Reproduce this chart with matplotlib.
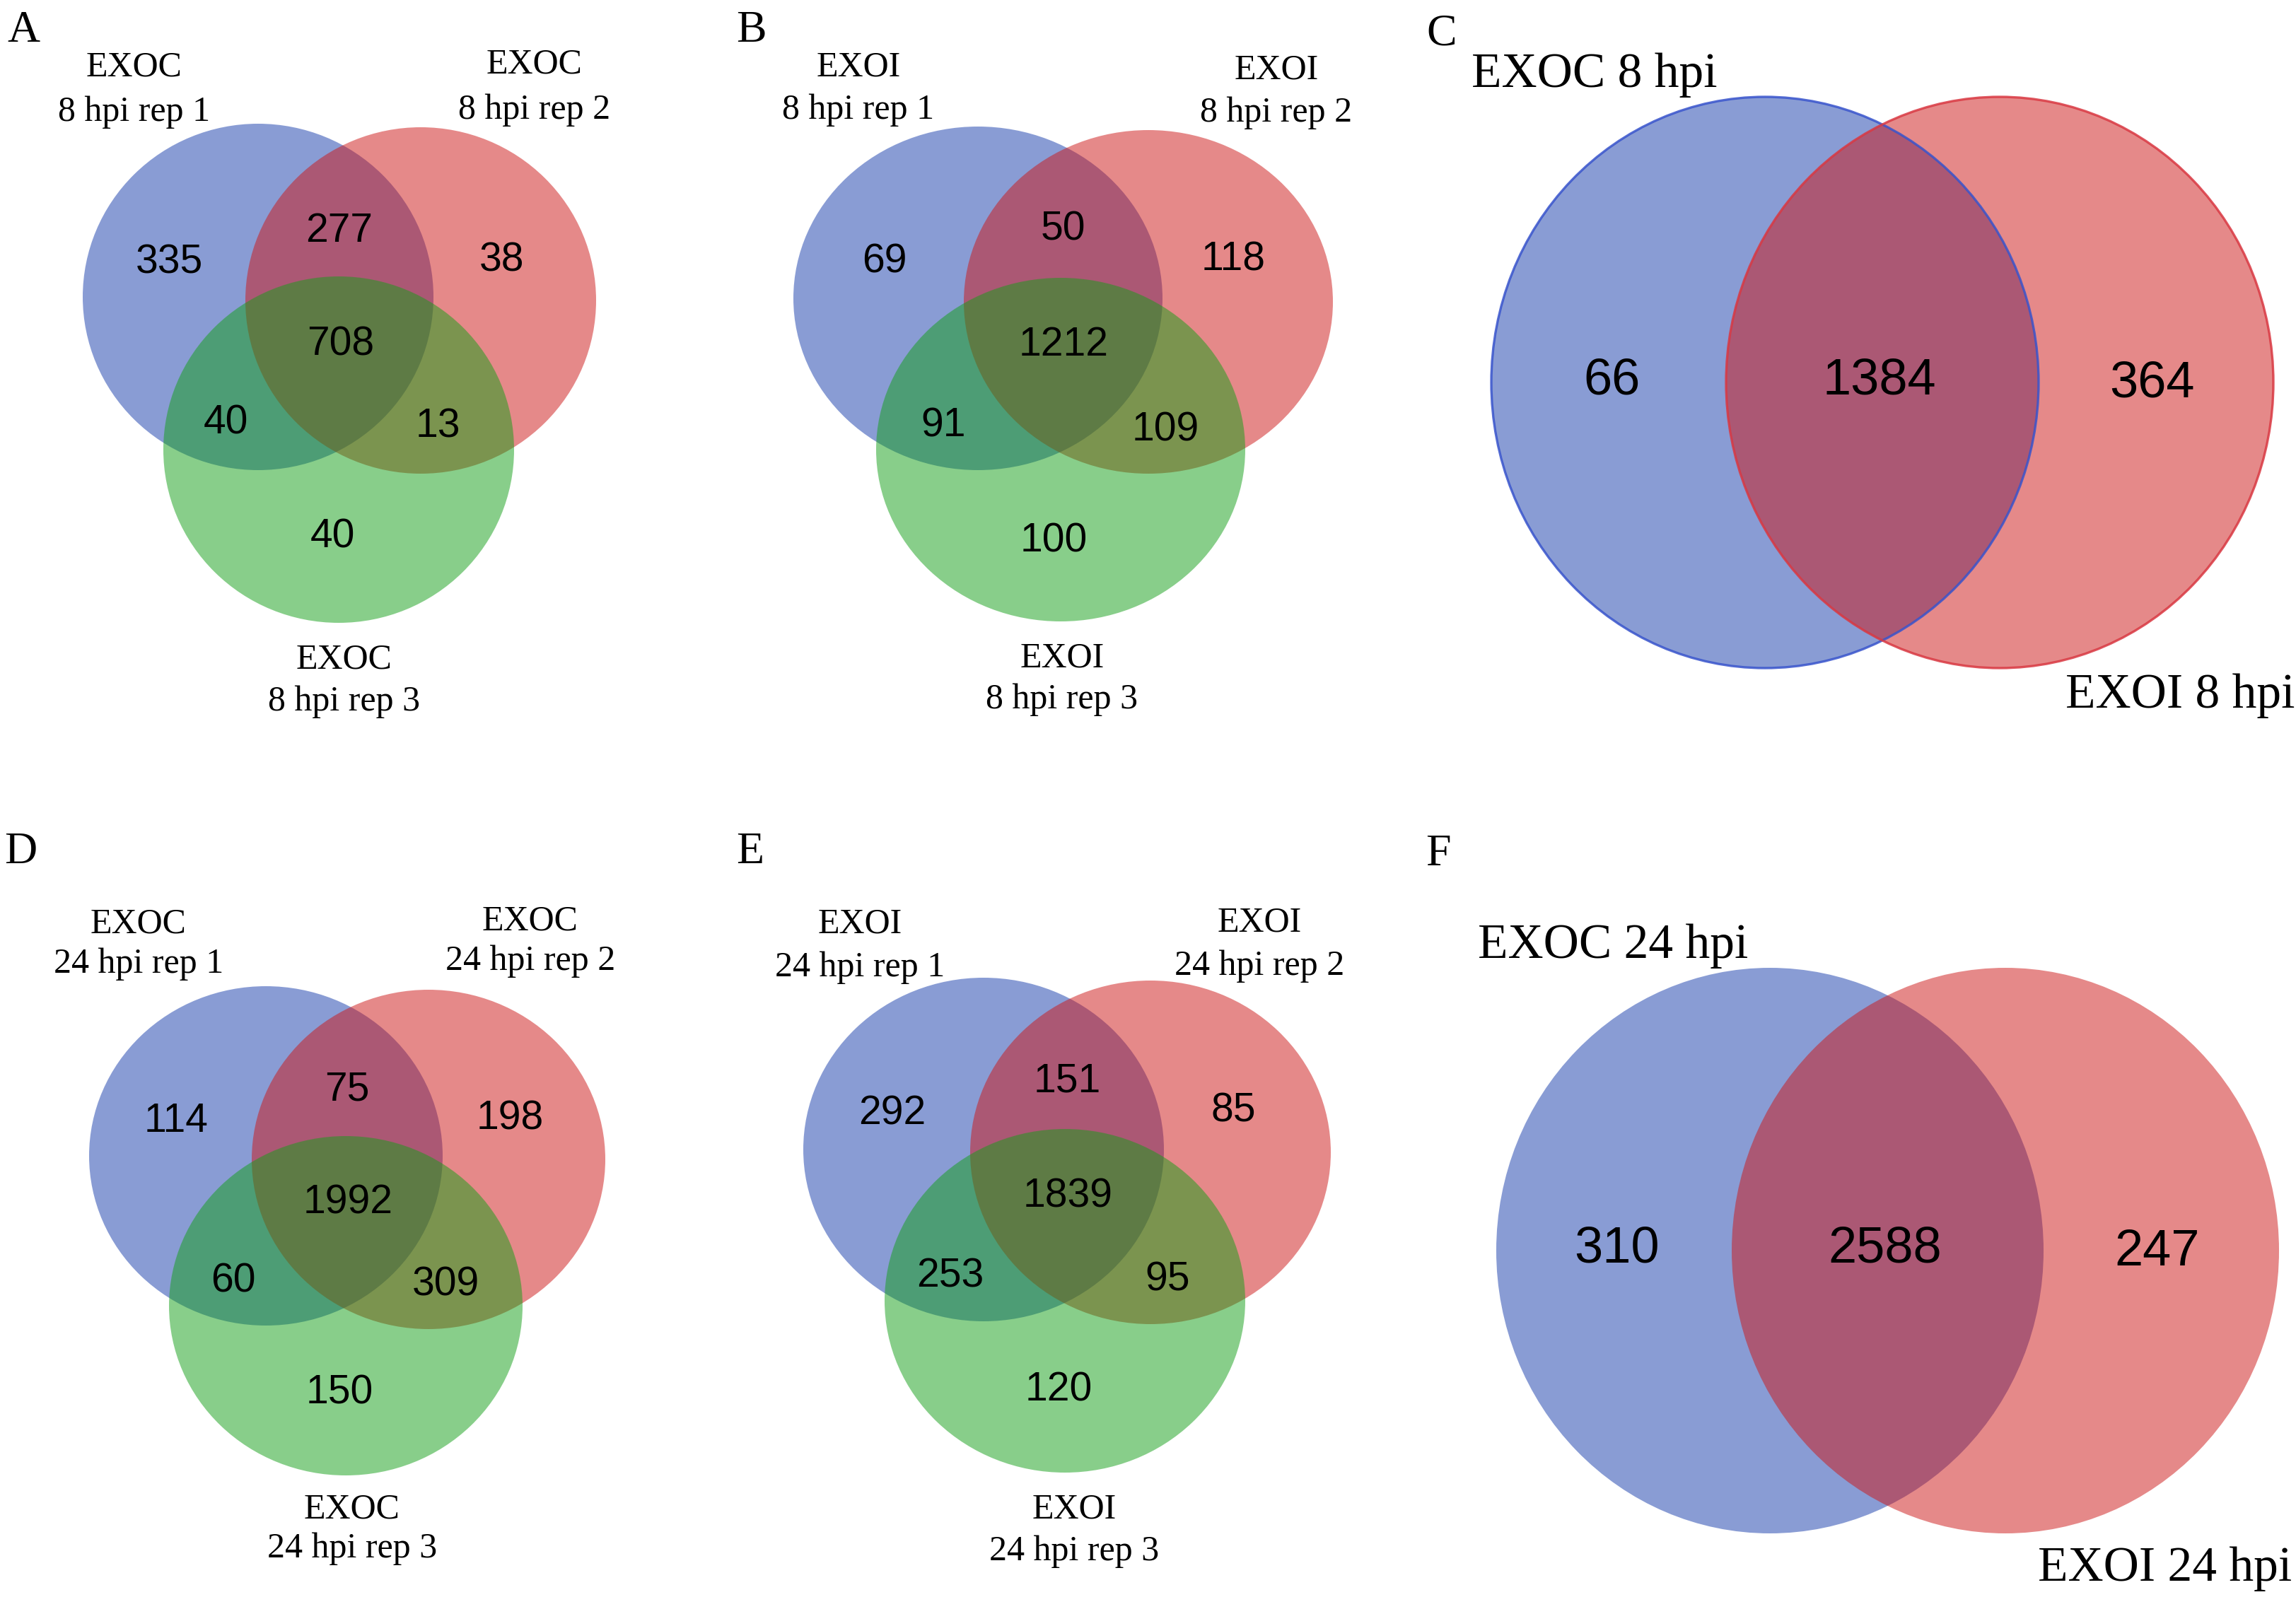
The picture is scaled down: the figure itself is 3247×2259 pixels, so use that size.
import matplotlib
matplotlib.use("Agg")
import matplotlib.pyplot as plt
from matplotlib.patches import Ellipse

# ---------------- data ----------------
# three-set counts, order: only1, only2, only3, 1&2, 1&3, 2&3, 1&2&3
counts_A = [335, 38, 40, 277, 40, 13, 708]
counts_B = [69, 118, 100, 50, 91, 109, 1212]
counts_D = [114, 198, 150, 75, 60, 309, 1992]
counts_E = [292, 85, 120, 151, 253, 95, 1839]
# two-set counts, order: only1, 1&2, only2
counts_C = [66, 1384, 364]
counts_F = [310, 2588, 247]

sets_A = [("EXOC", "8 hpi rep 1"), ("EXOC", "8 hpi rep 2"), ("EXOC", "8 hpi rep 3")]
sets_B = [("EXOI", "8 hpi rep 1"), ("EXOI", "8 hpi rep 2"), ("EXOI", "8 hpi rep 3")]
sets_D = [("EXOC", "24 hpi rep 1"), ("EXOC", "24 hpi rep 2"), ("EXOC", "24 hpi rep 3")]
sets_E = [("EXOI", "24 hpi rep 1"), ("EXOI", "24 hpi rep 2"), ("EXOI", "24 hpi rep 3")]
sets_C = ["EXOC 8 hpi", "EXOI 8 hpi"]
sets_F = ["EXOC 24 hpi", "EXOI 24 hpi"]

panel_letters = ["A", "B", "C", "D", "E", "F"]

# ---------------- style ----------------
W, H = 3248, 2259
DPI = 100
BLUE = (21/255, 59/255, 171/255)
RED = (205/255, 21/255, 21/255)
GREEN = (19/255, 159/255, 23/255)
ALPHA = 0.5
SERIF = ["Liberation Serif", "DejaVu Serif"]
SANS = ["Liberation Sans", "DejaVu Sans"]

fig = plt.figure(figsize=(W / DPI, H / DPI), dpi=DPI)
ax = fig.add_axes([0, 0, 1, 1])
ax.set_xlim(0, W)
ax.set_ylim(H, 0)
ax.axis("off")


def venn3(counts, names, centers, r, label_pos):
    (bx, by), (rx_, ry_), (gx, gy) = centers
    rxx, ryy = r
    for (cx, cy), col in zip(centers, [BLUE, RED, GREEN]):
        ax.add_patch(Ellipse((cx, cy), 2 * rxx, 2 * ryy, facecolor=col,
                             alpha=ALPHA, edgecolor="none"))
    s = rxx / 250.0
    pos = [
        (bx - 127 * s, by - 55 * s),
        (rx_ + 115 * s, ry_ - 63 * s),
        (gx - 9 * s, gy + 118 * s),
        ((bx + rx_) / 2, (by + ry_) / 2 - 102 * s),
        ((bx + gx) / 2 - 103 * s, (by + gy) / 2 + 65 * s),
        ((rx_ + gx) / 2 + 83 * s, (ry_ + gy) / 2 + 68 * s),
        ((bx + rx_ + gx) / 3 + 2 * s, (by + ry_ + gy) / 3 - 12 * s),
    ]
    for v, (x, y) in zip(counts, pos):
        ax.text(x, y + 21, str(v), ha="center", va="baseline",
                fontsize=41, family=SANS, color="black")
    for (l1, l2), (x, y1, y2) in zip(names, label_pos):
        ax.text(x, y1 + 17, l1, ha="center", va="baseline",
                fontsize=36, family=SERIF, color="black")
        ax.text(x, y2 + 17, l2, ha="center", va="baseline",
                fontsize=36, family=SERIF, color="black")


def venn2(counts, names, centers, r, label_pos, edges):
    (bx, by), (rx_, ry_) = centers
    rxx, ryy = r
    for (cx, cy), col in zip(centers, [BLUE, RED]):
        ax.add_patch(Ellipse((cx, cy), 2 * rxx, 2 * ryy, facecolor=col,
                             alpha=ALPHA, edgecolor="none"))
    if edges:
        for (cx, cy), col in zip(centers, [(0.22, 0.33, 0.80), (0.85, 0.22, 0.26)]):
            ax.add_patch(Ellipse((cx, cy), 2 * rxx, 2 * ryy, facecolor="none",
                                 edgecolor=col, linewidth=2.4, alpha=0.85))
    pos = [
        (bx - 216, by - 10),
        ((bx + rx_) / 2 - 4, (by + ry_) / 2 - 10),
        (rx_ + 215, ry_ - 6),
    ]
    for v, (x, y) in zip(counts, pos):
        ax.text(x, y + 27, str(v), ha="center", va="baseline",
                fontsize=52, family=SANS, color="black")
    for name, (x, yb) in zip(names, label_pos):
        ax.text(x, yb, name, ha="center", va="baseline",
                fontsize=50, family=SERIF, color="black")


# ---------------- layout ----------------
venn3(counts_A, sets_A, [(365, 420), (595, 425), (479, 636)], (248, 245),
      [(190, 90, 154), (756, 87, 151), (487, 928, 988)])
venn3(counts_B, sets_B, [(1383, 422), (1624, 427), (1500, 636)], (261, 243),
      [(1214, 90, 151), (1805, 94, 155), (1502, 926, 985)])
venn3(counts_D, sets_D, [(376, 1635), (606, 1640), (489, 1847)], (250, 240),
      [(196, 1302, 1359), (750, 1299, 1355), (498, 2130, 2186)])
venn3(counts_E, sets_E, [(1391, 1626), (1627, 1630), (1506, 1840)], (255, 243),
      [(1216, 1302, 1364), (1781, 1300, 1362), (1519, 2130, 2190)])
venn2(counts_C, sets_C, [(2496, 541), (2828, 541)], (387, 404),
      [(2255, 123), (3083, 1001)], edges=True)
venn2(counts_F, sets_F, [(2503, 1769), (2836, 1769)], (387, 400),
      [(2281, 1355), (3062, 2236)], edges=False)

letter_pos = [(10, 59), (1041, 59), (2017, 63), (6, 1221), (1041, 1221), (2016, 1224)]
for letter, (x, y) in zip(panel_letters, letter_pos):
    ax.text(x, y, letter, ha="left", va="baseline", fontsize=46,
            family=SERIF, color="black")

fig.savefig("out.png", dpi=DPI, facecolor="white")
